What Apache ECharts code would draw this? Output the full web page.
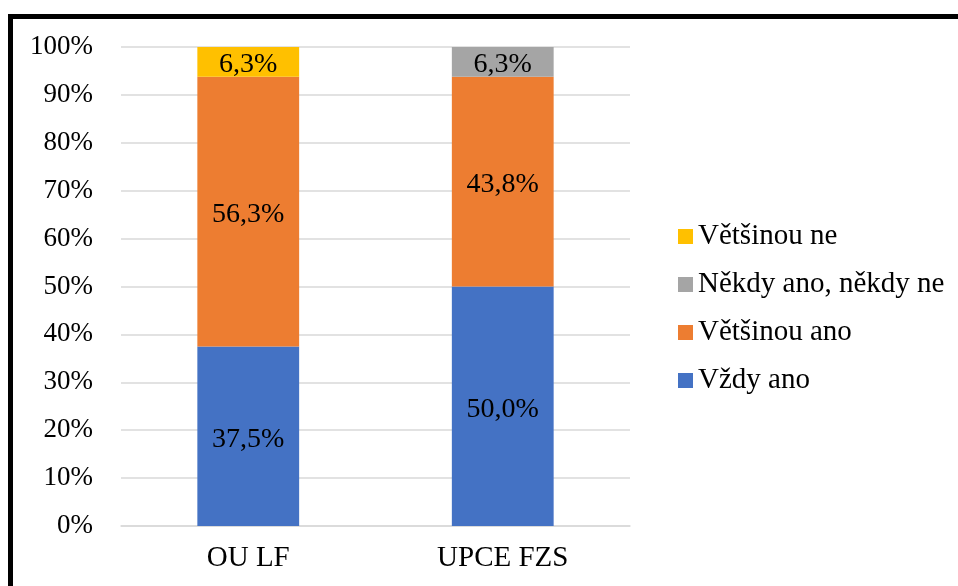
<!DOCTYPE html>
<html>
<head>
<meta charset="utf-8">
<script src="https://cdn.jsdelivr.net/npm/echarts@6/dist/echarts.min.js"></script>
<style>
html,body{margin:0;padding:0;background:#fff;}
#c{width:958px;height:586px;}
</style>
</head>
<body>
<div id="c"></div>
<script>
const categories = ['OU LF', 'UPCE FZS'];
const seriesNames = ['Vždy ano', 'Většinou ano', 'Někdy ano, někdy ne', 'Většinou ne'];
const vzdyAno = [37.5, 50.0];
const vetsinouAno = [56.3, 43.8];
const nekdy = [0, 6.3];
const vetsinouNe = [6.3, 0];
const colors = ['#4472C4', '#ED7D31', '#A5A5A5', '#FFC000'];
const yTicks = [0, 10, 20, 30, 40, 50, 60, 70, 80, 90, 100];

const font = '"Liberation Serif", "Times New Roman", serif';
const values = [vzdyAno, vetsinouAno, nekdy, vetsinouNe];

const chart = echarts.init(document.getElementById('c'), null, {renderer: 'canvas'});
chart.setOption({
  animation: false,
  backgroundColor: '#fff',
  textStyle: {fontFamily: font, color: '#000'},
  graphic: [{
    type: 'rect',
    shape: {x: 10.5, y: 16.5, width: 1000, height: 620},
    style: {fill: 'none', stroke: '#000', lineWidth: 5},
    silent: true
  }],
  grid: {left: 121, right: 328, top: 47, bottom: 60, containLabel: false},
  legend: {
    orient: 'vertical',
    left: 673,
    top: 217,
    itemWidth: 15,
    itemHeight: 15,
    itemGap: 19,
    icon: 'rect',
    data: seriesNames.slice().reverse(),
    textStyle: {fontFamily: font, fontSize: 29, color: '#000'}
  },
  xAxis: {
    type: 'category',
    data: categories,
    axisLine: {show: true, lineStyle: {color: '#d9d9d9', width: 1.5}},
    axisTick: {show: false},
    axisLabel: {fontFamily: font, fontSize: 29, color: '#000', margin: 18}
  },
  yAxis: {
    type: 'value',
    min: 0, max: 100, interval: 10,
    axisLine: {show: false},
    axisTick: {show: false},
    splitLine: {lineStyle: {color: '#d9d9d9', width: 1.5}},
    axisLabel: {fontFamily: font, fontSize: 27, color: '#000', margin: 28,
      padding: [3, 0, 0, 0],
      formatter: v => yTicks.includes(v) ? v + '%' : ''}
  },
  series: seriesNames.map((name, i) => ({
    name: name,
    type: 'bar',
    stack: 'total',
    barWidth: '40%',
    itemStyle: {color: colors[i]},
    label: {
      show: true,
      position: 'inside',
      offset: [0, 3],
      fontFamily: font,
      fontSize: 28,
      color: '#000',
      formatter: p => p.value > 0 ? p.value.toFixed(1).replace('.', ',') + '%' : ''
    },
    data: values[i]
  }))
});
</script>
</body>
</html>
